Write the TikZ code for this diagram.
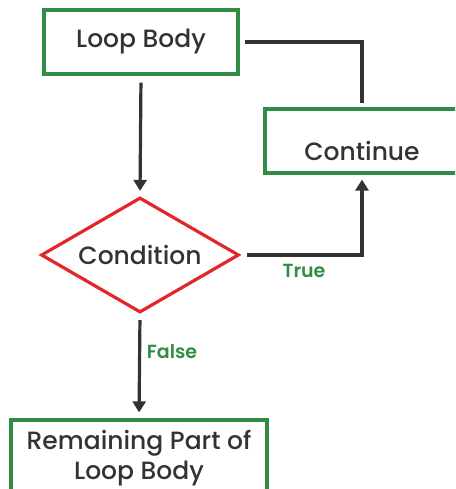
\documentclass[tikz,border=0pt]{standalone}
\usepackage{fontspec}
\setmainfont{Poppins}[UprightFont=* Medium, BoldFont=* SemiBold]
\usetikzlibrary{arrows.meta,shapes.geometric}
\definecolor{gfgreen}{HTML}{2F8D46}
\definecolor{redline}{HTML}{E3262A}
\definecolor{ink}{HTML}{333333}
\tikzset{
  box/.style={draw=gfgreen, line width=3.2pt, text=ink, font=\fontsize{25}{30}\selectfont, align=center, inner sep=0pt},
  conn/.style={draw=ink, line width=3.2pt},
  arr/.style={conn, -{Triangle[width=13pt,length=11pt]}},
  lbl/.style={text=gfgreen, font=\fontsize{19}{20}\selectfont\bfseries}
}
\begin{document}
\begin{tikzpicture}[x=1pt,y=-1pt]
\useasboundingbox (0,0) rectangle (455,489);
\clip (0,0) rectangle (455,489);
\node[box, minimum width=194pt, minimum height=64pt] (lb) at (141,42) {Loop Body};
\node[box, minimum width=194pt, minimum height=64pt, text depth=0pt] (cont) at (362,141) {\raisebox{-20pt}{Continue}};
\node[draw=redline, line width=3.2pt, shape=diamond, aspect=1.7, minimum width=198pt, minimum height=115pt, inner sep=0pt, text=ink, font=\fontsize{25}{28}\selectfont] (cond) at (140,255) {Condition};
\node[box, minimum width=256pt, minimum height=76pt] (rem) at (139,458) {Remaining Part of\\Loop Body};
\draw[conn, shorten <=5pt, shorten >=4pt] (lb.east) -| (cont.north);
\draw[arr, shorten <=7pt, shorten >=5pt] (lb.south) -- (cond.north);
\draw[arr, shorten <=6pt, shorten >=5pt] (cond.east) -| (cont.south);
\draw[arr, shorten <=6pt, shorten >=6pt] (cond.south) -- (rem.north);
\node[lbl] (tl) at (304,271) {True};
\node[lbl] (fl) at (172,352) {False};
\end{tikzpicture}
\end{document}
